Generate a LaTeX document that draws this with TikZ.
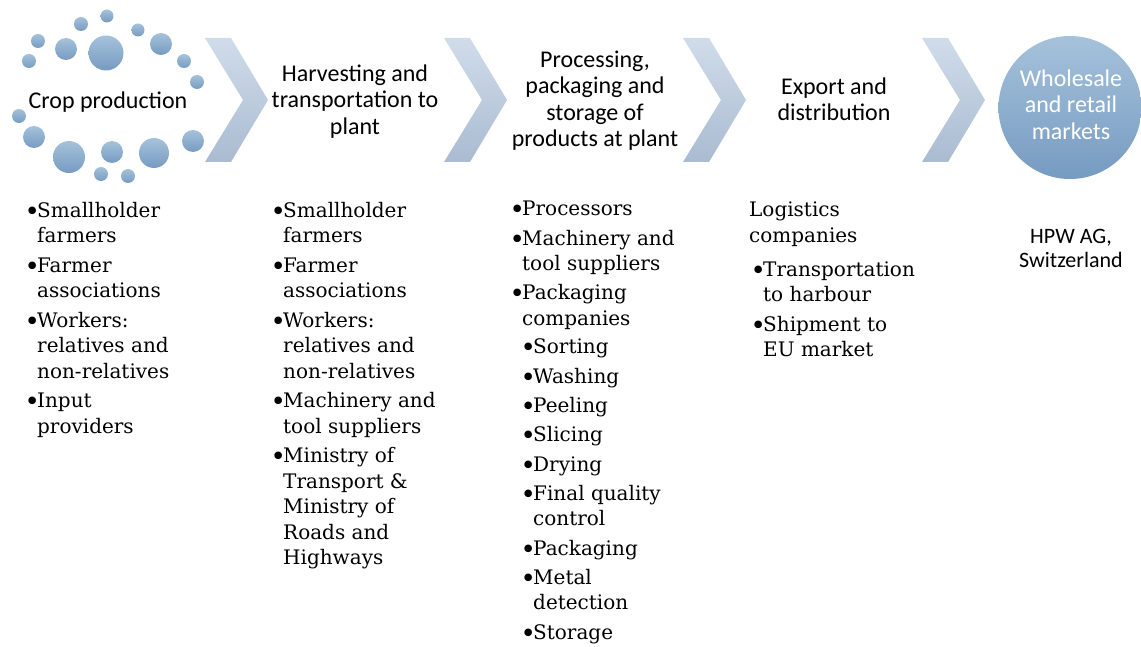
\documentclass[tikz,border=0pt]{standalone}
\usepackage{fontspec}
\usepackage{graphicx}
\setmainfont{DejaVu Serif}
\newfontfamily\headfont{Carlito}
\definecolor{chevtop}{RGB}{208,220,234}
\definecolor{chevbot}{RGB}{170,187,209}
\definecolor{dottop}{RGB}{166,194,219}
\definecolor{dotbot}{RGB}{118,155,193}
\newcommand{\bul}{\makebox[11pt][l]{\hspace*{-1.5pt}\raisebox{-3pt}{\scalebox{1.3}{\textbullet}}}}
\newcommand{\ind}{\hspace*{11pt}}

\begin{document}
\begin{tikzpicture}[x=1pt, y=-1pt,
    chev/.style={top color=chevtop, bottom color=chevbot},
    dot/.style={top color=dottop, bottom color=dotbot},
    head/.style={font=\headfont\fontsize{24}{26.5}\selectfont, align=center, inner sep=0pt},
    list/.style={font=\fontsize{20}{25.5}\selectfont, align=left, inner sep=0pt, anchor=north west}]
    \useasboundingbox (0,0) rectangle (1141,647);

    % ring of dots round the first stage
    \shade[dot] (107,16) circle (6.5);
    \shade[dot] (81,24) circle (7);
    \shade[dot] (138,30) circle (6.5);
    \shade[dot] (38,41) circle (7);
    \shade[dot] (66,49) circle (11);
    \shade[dot] (106,53) circle (17.5);
    \shade[dot] (161,44) circle (11);
    \shade[dot] (29,61) circle (7);
    \shade[dot] (184,61) circle (7);
    \shade[dot] (197,82) circle (7);
    \shade[dot] (19,116) circle (7);
    \shade[dot] (34,137) circle (11);
    \shade[dot] (69,157) circle (16);
    \shade[dot] (112,152) circle (11);
    \shade[dot] (154,153) circle (15);
    \shade[dot] (193,141) circle (11);
    \shade[dot] (101,174) circle (7);
    \shade[dot] (128,176) circle (7);
    \node[head] (crop) at (108,102) {Crop production};

    % chevrons between the stages
    \shade[chev] (205,38) -- ++(26,0) -- ++(37,62) -- ++(-37,62) -- ++(-26,0) -- ++(38,-62) -- cycle;
    \shade[chev] (444,38) -- ++(26,0) -- ++(37,62) -- ++(-37,62) -- ++(-26,0) -- ++(38,-62) -- cycle;
    \shade[chev] (683,38) -- ++(26,0) -- ++(37,62) -- ++(-37,62) -- ++(-26,0) -- ++(38,-62) -- cycle;
    \shade[chev] (922,38) -- ++(26,0) -- ++(37,62) -- ++(-37,62) -- ++(-26,0) -- ++(38,-62) -- cycle;

    \node[head] (harvest) at (355,101.5) {Harvesting and\\transportation to\\plant};
    \node[head] (process) at (595,100.5) {Processing,\\packaging and\\storage of\\products at plant};
    \node[head] (export) at (834,99.5) {Export and\\distribution};
    \node[circle, minimum size=143pt, inner sep=0pt, top color=dottop, bottom color=dotbot] (market) at (1070,107.5) {};
    \node[head, text=white] (markett) at (1071,104.5) {Wholesale\\and retail\\markets};

    % actors of each stage
    \node[list] (cropl) at (26,202) {\bul Smallholder\\ \ind farmers\\[4pt]
        \bul Farmer\\ \ind associations\\[4pt]
        \bul Workers:\\ \ind relatives and\\ \ind non-relatives\\[4pt]
        \bul Input\\ \ind providers};
    \node[list] (harvestl) at (272,202) {\bul Smallholder\\ \ind farmers\\[4pt]
        \bul Farmer\\ \ind associations\\[4pt]
        \bul Workers:\\ \ind relatives and\\ \ind non-relatives\\[4pt]
        \bul Machinery and\\ \ind tool suppliers\\[4pt]
        \bul Ministry of\\ \ind Transport \&\\ \ind Ministry of\\ \ind Roads and\\ \ind Highways};
    \node[list] (processl) at (511,201) {\bul Processors\\[3.8pt]
        \bul Machinery and\\ \ind tool suppliers\\[3.8pt]
        \bul Packaging\\ \ind companies\\[3pt]
        \ind\bul Sorting\\[3.8pt]
        \ind\bul Washing\\[3.8pt]
        \ind\bul Peeling\\[3.8pt]
        \ind\bul Slicing\\[3.8pt]
        \ind\bul Drying\\[3.8pt]
        \ind\bul Final quality\\ \ind\ind control\\[3.8pt]
        \ind\bul Packaging\\[3.8pt]
        \ind\bul Metal\\ \ind\ind detection\\[3.8pt]
        \ind\bul Storage};
    \node[list] (exportl) at (749,202) {Logistics\\ companies\\[8.5pt]
        \hspace*{3pt}\bul Transportation\\ \hspace*{14pt}to harbour\\[4pt]
        \hspace*{3pt}\bul Shipment to\\ \hspace*{14pt}EU market};
    \node[head, font=\headfont\fontsize{22}{24}\selectfont] (marketl) at (1071,248) {HPW AG,\\Switzerland};
\end{tikzpicture}
\end{document}
